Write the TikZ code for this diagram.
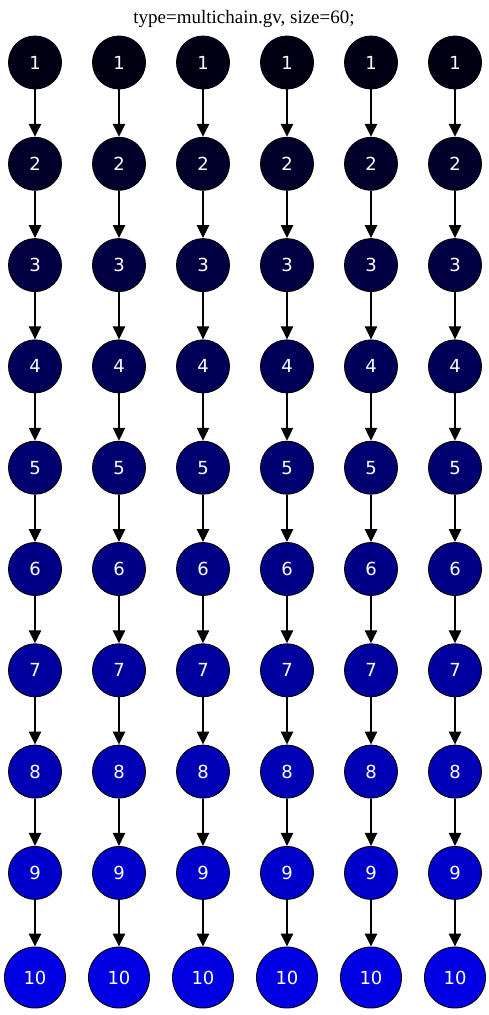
\documentclass[tikz,border=0pt]{standalone}
\usepackage{fontspec}
\setmainfont{Liberation Serif}
\newfontfamily\numfont{DejaVu Sans}
\usetikzlibrary{arrows.meta}
\begin{document}
\begin{tikzpicture}[x=1pt,y=-1pt,
  nd/.style={circle,draw=black,line width=0.9pt,minimum size=53pt,inner sep=0pt,text=white,font=\numfont\fontsize{18}{18}\selectfont},
  ndbig/.style={nd,minimum size=61pt},
  edge/.style={line width=2.4pt,-{Triangle[length=13pt,width=12pt]}}]
\useasboundingbox (0,0) rectangle (489,1015);
\node[font=\fontsize{19}{20}\selectfont] (title) at (244,19) {type=multichain.gv, size=60;};
\foreach \c in {1,...,6}{
  \foreach \r in {1,...,9}{
    \pgfmathtruncatemacro{\b}{20+(\r-1)*23}
    \definecolor{fc}{RGB}{0,0,\b}
    \node[nd,fill=fc] (n\c-\r) at ({35+(\c-1)*84},{62.5+(\r-1)*101.3}) {\r};
  }
  \definecolor{fc}{RGB}{0,0,227}
  \node[ndbig,fill=fc] (n\c-10) at ({35+(\c-1)*84},977.5) {10};
  \foreach \r [evaluate=\r as \s using int(\r+1)] in {1,...,9}{
    \draw[edge] (n\c-\r) -- (n\c-\s);
  }
}
\end{tikzpicture}
\end{document}
